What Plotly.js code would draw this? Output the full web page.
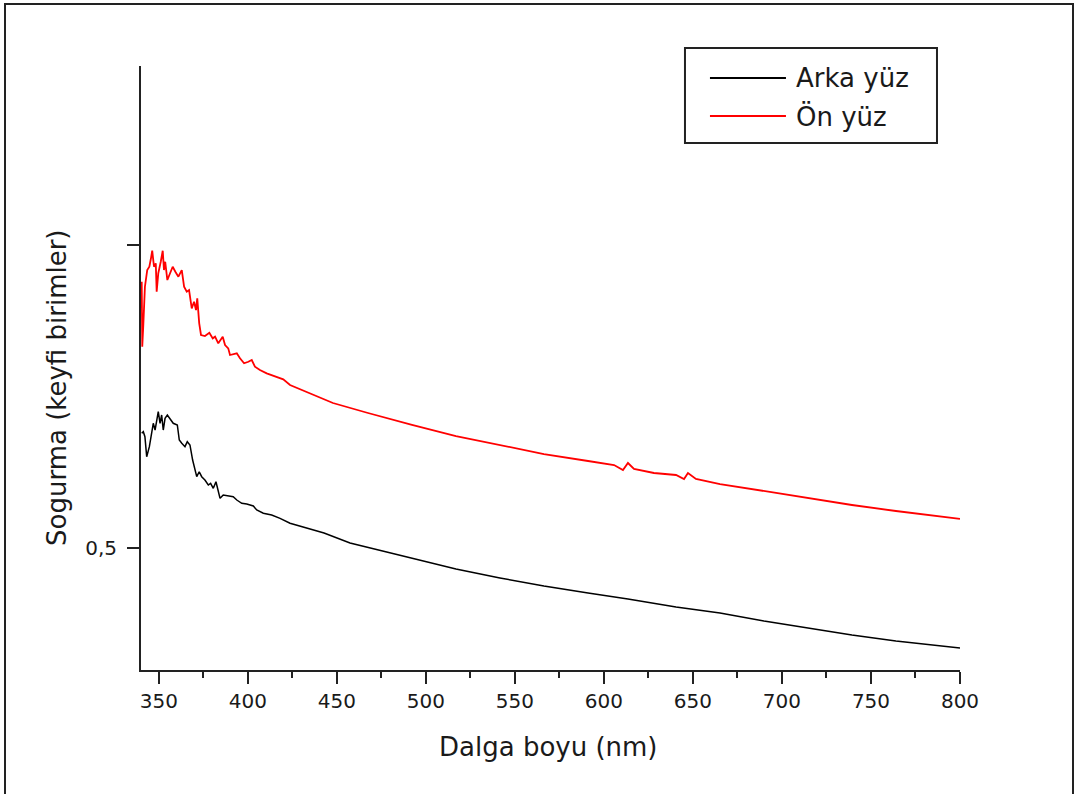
<!DOCTYPE html>
<html>
<head>
<meta charset="utf-8">
<script src="https://cdn.plot.ly/plotly-3.0.1.min.js"></script>
<style>
  html, body { margin: 0; padding: 0; background: #fff; }
  #wrap { position: relative; width: 1075px; height: 794px; overflow: hidden; }
  #chart { position: absolute; left: 0; top: 0; width: 1075px; height: 794px; }
  #frame { position: absolute; left: 4px; top: 3px; width: 1066px; height: 800px;
           border-top: 2px solid #222; border-left: 2px solid #222; border-right: 2px solid #222;
           pointer-events: none; }
</style>
</head>
<body>
<div id="wrap">
  <div id="chart"></div>
  <div id="frame"></div>
</div>
<script>
// ---- Data ----
const seriesNames = ['Arka yüz', 'Ön yüz'];
const seriesColors = ['#000000', '#ff0000'];

const waveArka = [340.4, 341.3, 342.2, 343.2, 344.7, 346.0, 346.9, 347.9, 348.8, 349.7,
  350.7, 351.6, 352.5, 353.5, 354.8, 356.3, 358.1, 360.4, 361.5, 362.9,
  364.7, 366.0, 367.5, 369.0, 370.3, 371.3, 372.7, 374.1, 375.9, 377.8,
  379.1, 380.6, 382.1, 383.4, 384.4, 386.2, 389.0, 391.8, 393.8, 396.6,
  399.4, 403.1, 405.0, 408.7, 413.4, 418.1, 423.7, 442.8, 457.4, 479.9,
  516.9, 541.6, 566.3, 591.1, 613.5, 640.5, 665.2, 689.9, 714.5, 739.3,
  764.0, 800.0];
const absArka = [0.6893, 0.6919, 0.6837, 0.6507, 0.6672, 0.6893, 0.7058, 0.6947, 0.7112, 0.7249,
  0.7058, 0.7195, 0.6947, 0.7140, 0.7195, 0.7140, 0.7058, 0.7030, 0.6782, 0.6728,
  0.6672, 0.6754, 0.6700, 0.6452, 0.6287, 0.6177, 0.6259, 0.6177, 0.6122, 0.6040,
  0.6068, 0.5985, 0.6094, 0.5957, 0.5820, 0.5875, 0.5858, 0.5847, 0.5792, 0.5738,
  0.5726, 0.5693, 0.5627, 0.5573, 0.5545, 0.5490, 0.5408, 0.5248, 0.5083, 0.4917,
  0.4653, 0.4505, 0.4373, 0.4257, 0.4158, 0.4026, 0.3927, 0.3795, 0.3680, 0.3564,
  0.3465, 0.3350];

const waveOn = [340.4, 340.7, 341.3, 342.2, 343.5, 344.7, 345.6, 346.3, 347.3, 348.3,
  348.8, 349.7, 351.1, 352.2, 352.9, 353.6, 354.8, 356.3, 357.8, 359.3,
  361.0, 362.9, 364.2, 365.7, 367.0, 368.5, 369.8, 370.9, 371.6, 372.7,
  373.7, 375.9, 378.4, 380.3, 381.6, 383.4, 384.9, 385.9, 387.2, 389.0,
  390.0, 391.5, 393.8, 395.6, 397.9, 400.3, 402.2, 404.0, 406.8, 410.6,
  416.2, 419.9, 423.7, 447.8, 467.5, 492.2, 516.9, 541.6, 566.3, 591.1,
  605.7, 610.7, 613.5, 616.9, 628.1, 640.5, 645.0, 647.2, 651.7, 665.2,
  689.9, 714.5, 739.3, 764.0, 800.0];
const absOn = [0.9394, 0.8322, 0.8680, 0.9312, 0.9587, 0.9642, 0.9781, 0.9906, 0.9642, 0.9698,
  0.9229, 0.9533, 0.9724, 0.9906, 0.9587, 0.9724, 0.9422, 0.9533, 0.9642, 0.9559,
  0.9477, 0.9587, 0.9312, 0.9229, 0.9257, 0.8955, 0.9064, 0.8927, 0.9120, 0.8708,
  0.8515, 0.8498, 0.8553, 0.8460, 0.8487, 0.8378, 0.8432, 0.8487, 0.8350, 0.8295,
  0.8185, 0.8201, 0.8213, 0.8130, 0.8048, 0.8074, 0.8102, 0.7992, 0.7937, 0.7883,
  0.7827, 0.7784, 0.7690, 0.7393, 0.7228, 0.7030, 0.6848, 0.6700, 0.6551, 0.6436,
  0.6370, 0.6287, 0.6403, 0.6304, 0.6238, 0.6205, 0.6139, 0.6238, 0.6139, 0.6056,
  0.5941, 0.5825, 0.5710, 0.5611, 0.5479];

const xTickVals = [350, 400, 450, 500, 550, 600, 650, 700, 750, 800];
const yTickVals = [0.5, 1.0];
const yTickText = ['0,5', ''];
const xTitle = 'Dalga boyu (nm)';
const yTitle = 'Sogurma (keyfi birimler)';

// ---- Chart ----
const FONT = 'DejaVu Sans, Liberation Sans, sans-serif';
const TXT = '#1a1a1a';

const traces = [
  { x: waveArka, y: absArka, name: seriesNames[0], type: 'scatter', mode: 'lines',
    line: { color: seriesColors[0], width: 1.5 } },
  { x: waveOn, y: absOn, name: seriesNames[1], type: 'scatter', mode: 'lines',
    line: { color: seriesColors[1], width: 1.8 } }
];

// legend drawn manually (box, sample lines, labels)
const legBox = { x0: 0.6642, x1: 0.9719, y0: 0.8725, y1: 1.0298 };
const legRows = [0.9801, 0.9172];
const shapes = [
  { type: 'rect', xref: 'paper', yref: 'paper', x0: legBox.x0, x1: legBox.x1, y0: legBox.y0, y1: legBox.y1,
    line: { color: '#222', width: 2 }, fillcolor: 'rgba(0,0,0,0)' }
];
const annotations = [];
seriesNames.forEach((nm, i) => {
  shapes.push({ type: 'line', xref: 'paper', yref: 'paper', x0: 0.6947, x1: 0.7875,
    y0: legRows[i], y1: legRows[i], line: { color: seriesColors[i], width: 2 } });
  annotations.push({ xref: 'paper', yref: 'paper', x: 0.7975, y: legRows[i], xanchor: 'left', yanchor: 'middle',
    text: nm, showarrow: false, font: { family: FONT, size: 26, color: TXT } });
});
annotations.push({ xref: 'paper', yref: 'paper', x: 0.497, y: -0.1275, xanchor: 'center', yanchor: 'middle',
  text: xTitle, showarrow: false, font: { family: FONT, size: 26, color: TXT } });
annotations.push({ xref: 'paper', yref: 'paper', x: -0.1026, y: 0.4669, xanchor: 'center', yanchor: 'middle',
  textangle: -90, text: yTitle, showarrow: false, font: { family: FONT, size: 26, color: TXT } });

const layout = {
  width: 1075, height: 794,
  margin: { l: 141, r: 115, t: 66, b: 124, pad: 0 },
  paper_bgcolor: '#ffffff', plot_bgcolor: '#ffffff',
  showlegend: false,
  font: { family: FONT, color: TXT },
  xaxis: {
    range: [340, 800], showgrid: false, zeroline: false,
    showline: true, linecolor: '#222', linewidth: 2, mirror: false,
    tickmode: 'array', tickvals: xTickVals,
    ticks: 'outside', ticklen: 12, tickwidth: 2, tickcolor: '#222',
    tickfont: { family: FONT, size: 20, color: TXT },
    minor: { ticks: 'outside', ticklen: 6, tickwidth: 2, tickcolor: '#222', dtick: 25, tick0: 325, showgrid: false }
  },
  yaxis: {
    range: [0.2987, 1.2954], showgrid: false, zeroline: false,
    showline: true, linecolor: '#222', linewidth: 2, mirror: false,
    tickmode: 'array', tickvals: yTickVals, ticktext: yTickText,
    ticks: 'outside', ticklen: 12, tickwidth: 2, tickcolor: '#222',
    ticklabelstandoff: 6,
    tickfont: { family: FONT, size: 20, color: TXT }
  },
  shapes: shapes,
  annotations: annotations
};

Plotly.newPlot('chart', traces, layout, { staticPlot: true, displayModeBar: false });
</script>
</body>
</html>
